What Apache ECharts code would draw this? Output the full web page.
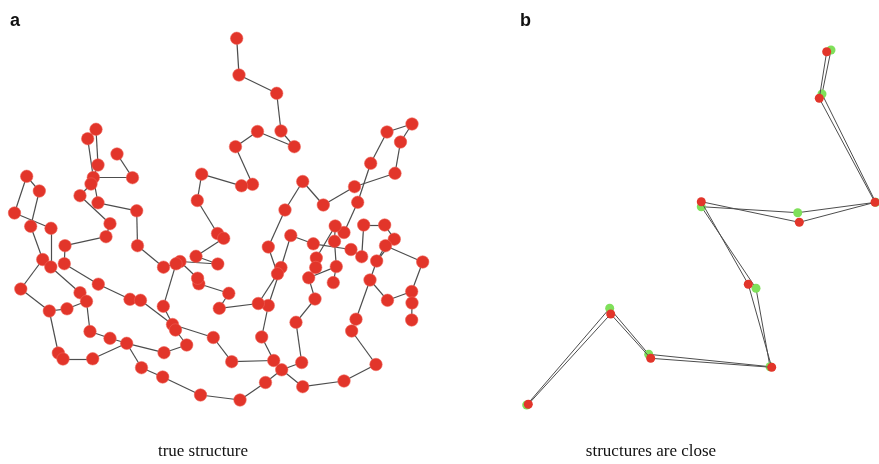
<!DOCTYPE html>
<html>
<head>
<meta charset="utf-8">
<script src="https://cdn.jsdelivr.net/npm/echarts@6/dist/echarts.min.js"></script>
<style>
  html, body { margin: 0; padding: 0; background: #fff; }
  #chart { width: 879px; height: 464px; }
</style>
</head>
<body>
<div id="chart"></div>
<script>
// Panel a: bead positions of the folded chain (plot units)
const trueNodes = [
  [236.7,38.3],[239,75],[276.7,93.3],[281,131],[294.3,146.7],[257.5,131.5],[235.5,146.7],[252.5,184.3],[241.5,185.8],[201.7,174.2],
  [197.3,200.5],[217.5,233.5],[223.7,238.3],[196,256.3],[217.8,264],[180,261.5],[176,263.8],[163.5,267.2],[137.5,245.7],[136.7,210.8],
  [98,202.8],[93.3,177.5],[91,184],[132.5,177.7],[117,154],[98,165],[96,129.3],[87.7,138.7],[80,195.7],[110,223.7],
  [106,236.7],[65,245.7],[64.3,263.7],[98.3,284.2],[130,299.3],[140.5,300.3],[172.5,324.5],[175.5,330],[213.3,337.5],[231.7,361.7],
  [273.7,360.5],[261.7,337],[268.3,305.5],[258.3,303.5],[219.3,308.3],[228.8,293.3],[198.8,283.8],[197.6,278.2],[163.3,306.3],[186.7,345],
  [164,352.7],[126.7,343.3],[141.5,367.7],[162.7,377],[200.5,395],[240,400],[265.5,382.5],[281.7,369.8],[301.7,362.5],[296,322.3],
  [315,299],[302.7,386.7],[344,381],[376,364.5],[351.7,331],[356,319.2],[370,280],[387.5,300.3],[411.7,291.5],[412,303],
  [411.7,320],[422.7,262],[394.3,239.2],[384.7,225],[363.7,225],[361.7,256.7],[351,249.5],[376.7,261],[385.5,245.7],[344,232.5],
  [335.2,226],[334.5,241.3],[313.3,243.8],[316.3,258],[315.7,267.5],[308.7,277.8],[336.3,266.6],[333.3,282.6],[290.8,235.5],[281,267.5],
  [277.5,273.8],[268.3,247],[285,210],[302.7,181.5],[323.3,205],[354.5,186.7],[395,173.3],[400.5,142],[412,124],[387,132],
  [370.7,163.3],[357.7,202.3],[26.7,176.3],[39.3,191],[14.5,213],[30.7,226.3],[51,228.3],[42.7,259.5],[50.8,267],[20.8,289],
  [80,292.7],[86.5,301.3],[49.3,311],[67,308.8],[90,331.5],[110,338.3],[58.3,353],[63,359],[92.7,358.8]
];

// Bonds between beads (node index pairs)
const trueBonds = [
  [0,1],[1,2],[2,3],[3,4],[4,5],[5,6],[6,7],[7,8],[8,9],[9,10],[10,11],[11,12],[12,13],[13,14],[14,15],[15,47],
  [16,17],[16,48],[47,46],[46,45],[45,44],[44,43],[43,90],[90,91],[91,92],[92,93],[93,94],[94,95],[95,96],[96,97],
  [97,98],[98,99],[99,100],[100,101],[101,79],[79,80],[80,81],[81,86],[86,87],
  [42,89],[89,88],[88,82],[82,76],[42,41],[41,40],[40,39],[39,38],[38,36],[36,35],[35,34],[34,33],[33,32],[32,31],
  [31,30],[30,29],[29,28],[28,22],[22,25],[25,26],[26,27],[27,21],[21,23],[23,24],[20,21],[20,19],[19,18],[18,17],
  [36,37],[37,49],[49,50],[50,51],[48,37],
  [51,52],[52,53],[53,54],[54,55],[55,56],[56,57],[57,58],[57,61],[40,57],
  [58,59],[59,60],[60,85],[61,62],[62,63],[63,64],[64,65],[65,66],[66,67],[67,68],[68,69],[69,70],[68,71],
  [71,78],[78,77],[77,66],[73,72],[72,77],[73,74],[74,75],[75,76],
  [80,83],[83,84],[84,85],[85,86],
  [102,103],[102,104],[103,105],[104,106],[105,107],[106,108],[107,109],[109,112],[112,116],[116,117],[117,118],
  [118,51],[112,113],[113,111],[111,110],[110,108],[111,114],[114,115],[115,51]
];

// Panel b: inferred and reference chains
const inferredChain = [
  [826.7,51.7],[819.3,98.3],[875,202.3],[799.3,222.3],[701.3,201.7],[748.3,284.3],[771.7,367.3],[650.7,358.3],[610.7,314],[528.3,404.3]
];
const referenceChain = [
  [831,50],[822,94],[875.7,202.3],[797.7,212.7],[701.3,206.7],[756,288.3],[770,366.7],[648.7,354.3],[609.7,308.3],[526.7,405]
];

const panelLetters = [
  { text: 'a', x: 10, y: 12 },
  { text: 'b', x: 520, y: 12 }
];
const captions = [
  { text: 'true structure', x: 203, y: 443 },
  { text: 'structures are close', x: 651, y: 443 }
];

const chart = echarts.init(document.getElementById('chart'), null, { renderer: 'canvas' });

const bondLine = { color: '#4d4d4d', width: 1.2, opacity: 1, curveness: 0 };

const option = {
  animation: false,
  backgroundColor: '#ffffff',
  grid: { left: 0, top: 0, right: 0, bottom: 0 },
  xAxis: { type: 'value', min: 0, max: 879, show: false },
  yAxis: { type: 'value', min: 0, max: 464, inverse: true, show: false },
  graphic: [
    ...panelLetters.map(l => ({
      type: 'text', left: l.x, top: l.y,
      style: { text: l.text, fill: '#111', font: 'bold 18px "Liberation Sans", Arial, sans-serif' }
    })),
    ...captions.map(c => ({
      type: 'text', x: c.x, y: c.y,
      style: { text: c.text, fill: '#111', align: 'center', font: '17px "Liberation Serif", "Times New Roman", serif' }
    }))
  ],
  series: [
    {
      type: 'graph',
      coordinateSystem: 'cartesian2d',
      symbol: 'circle',
      symbolSize: 12.5,
      z: 2,
      itemStyle: { color: '#e2352a', borderColor: 'rgba(238,100,90,0.55)', borderWidth: 1 },
      lineStyle: bondLine,
      label: { show: false },
      data: trueNodes.map(p => ({ value: p })),
      links: trueBonds.map(b => ({ source: b[0], target: b[1] }))
    },
    {
      type: 'line',
      data: referenceChain,
      symbol: 'circle',
      symbolSize: 9,
      showSymbol: true,
      z: 3,
      lineStyle: { color: '#4d4d4d', width: 1 },
      itemStyle: { color: '#7fe05a', borderWidth: 0 }
    },
    {
      type: 'line',
      data: inferredChain,
      symbol: 'circle',
      symbolSize: 9,
      showSymbol: true,
      z: 4,
      lineStyle: { color: '#4d4d4d', width: 1 },
      itemStyle: { color: '#e2352a', borderWidth: 0 }
    }
  ]
};

chart.setOption(option);
</script>
</body>
</html>
